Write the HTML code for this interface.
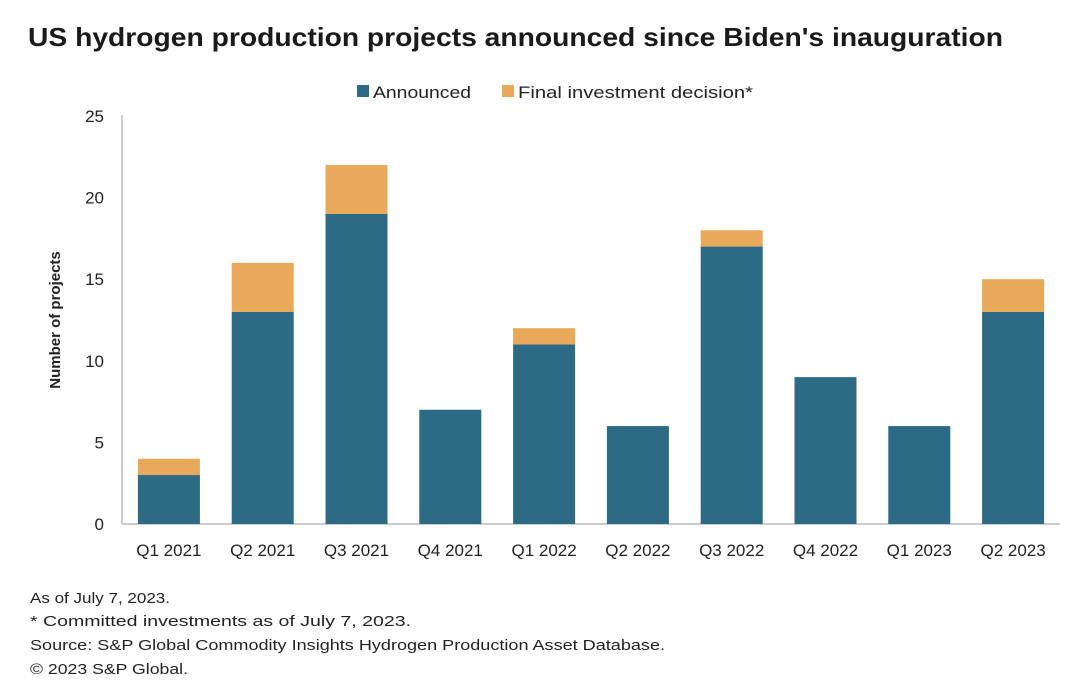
<!DOCTYPE html>
<html><head><meta charset="utf-8"><style>
body{margin:0;background:#fff;font-family:"Liberation Sans",sans-serif;}
#wrap{position:relative;width:1092px;height:700px;overflow:hidden;background:#fff;}
</style></head><body>
<div id="wrap">
<svg id="chart" width="1092" height="700">
<text x="28" y="46" font-size="26" font-weight="bold" fill="#1a1a1a" textLength="975" lengthAdjust="spacingAndGlyphs">US hydrogen production projects announced since Biden's inauguration</text>
<g>
<rect x="357" y="85" width="12" height="12" fill="#2c6a85"/>
<text x="373" y="98" font-size="17" fill="#222" textLength="98" lengthAdjust="spacingAndGlyphs">Announced</text>
<rect x="502" y="85" width="12" height="12" fill="#e8a95a"/>
<text x="518" y="98" font-size="17" fill="#222" textLength="235" lengthAdjust="spacingAndGlyphs">Final investment decision*</text>
</g>
<text transform="translate(60,320) rotate(-90)" text-anchor="middle" font-size="15" font-weight="bold" fill="#222">Number of projects</text>
<line x1="122" y1="115" x2="122" y2="524" stroke="#bbb" stroke-width="1.5"/>
<line x1="122" y1="524" x2="1060" y2="524" stroke="#bbb" stroke-width="1.5"/>
<g id="yticks"></g><g id="bars"></g><g id="xticks"></g>
<g font-size="15" fill="#222">
<text x="30" y="603" textLength="140" lengthAdjust="spacingAndGlyphs">As of July 7, 2023.</text>
<text x="30" y="626" textLength="381" lengthAdjust="spacingAndGlyphs">* Committed investments as of July 7, 2023.</text>
<text x="30" y="650" textLength="635" lengthAdjust="spacingAndGlyphs">Source: S&amp;P Global Commodity Insights Hydrogen Production Asset Database.</text>
<text x="30" y="674" textLength="158" lengthAdjust="spacingAndGlyphs">© 2023 S&amp;P Global.</text>
</g>
</svg>
</div>
<script>
const categories=["Q1 2021","Q2 2021","Q3 2021","Q4 2021","Q1 2022","Q2 2022","Q3 2022","Q4 2022","Q1 2023","Q2 2023"];
const announced=[3,13,19,7,11,6,17,9,6,13];
const fid=[1,3,3,0,1,0,1,0,0,2];
const yTicks=[0,5,10,15,20,25];
const NS="http://www.w3.org/2000/svg";
const x0=122,x1=1060,y0=524,yTop=116,yMax=25;
const band=(x1-x0)/categories.length;
function y(v){return y0-(v/yMax)*(y0-yTop);}
function xc(i){return x0+band*(i+0.5);}
function mk(tag,attrs,parent){const e=document.createElementNS(NS,tag);for(const k in attrs)e.setAttribute(k,attrs[k]);parent.appendChild(e);return e;}
const yt=document.getElementById('yticks'),bars=document.getElementById('bars'),xt=document.getElementById('xticks');
yTicks.forEach(v=>{const t=mk('text',{x:104,y:y(v)+6,'text-anchor':'end','font-size':17,fill:'#222'},yt);t.textContent=v;

});
const bw=62;
categories.forEach((c,i)=>{
 const a=mk('rect',{x:xc(i)-bw/2,y:y(announced[i]),width:bw,height:y(0)-y(announced[i]),fill:'#2c6a85'},bars);
 
 
 if(fid[i]>0){const f=mk('rect',{x:xc(i)-bw/2,y:y(announced[i]+fid[i]),width:bw,height:y(announced[i])-y(announced[i]+fid[i]),fill:'#e8a95a'},bars);
 
 }
 const t=mk('text',{x:xc(i),y:556,'text-anchor':'middle','font-size':17,fill:'#222'},xt);t.textContent=c;
 
 
});
</script>
</body></html>
